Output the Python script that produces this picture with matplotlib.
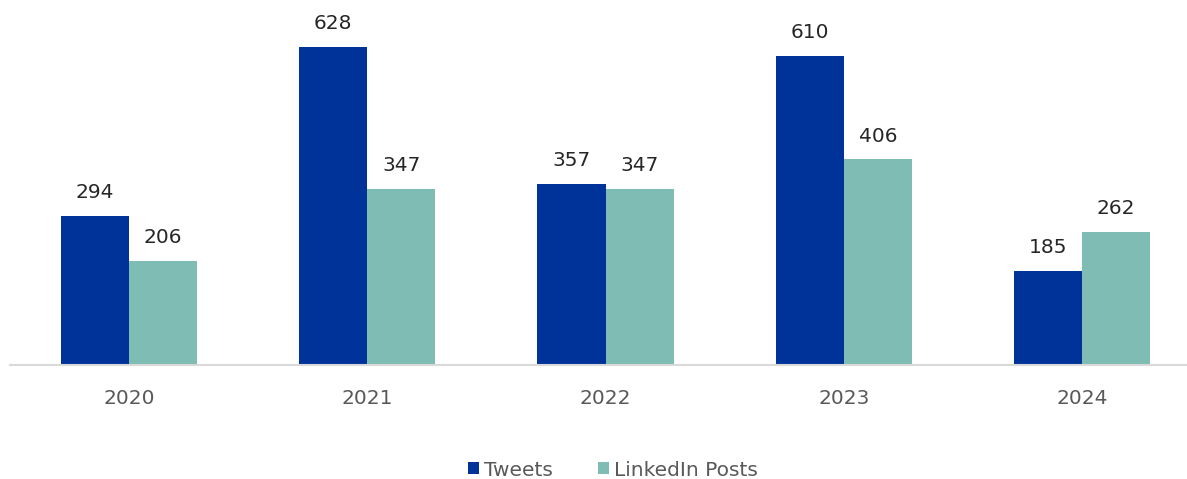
import numpy as np
import matplotlib.pyplot as plt

years = ["2020", "2021", "2022", "2023", "2024"]
tweets = [294, 628, 357, 610, 185]
linkedin = [206, 347, 347, 406, 262]

plt.rcParams['font.family'] = ['DejaVu Sans']

fig = plt.figure(figsize=(11.87, 4.79), dpi=100)
ax = fig.add_axes([10 / 1187, 114 / 479, 1191 / 1187, 365 / 479])

x = np.arange(len(years))
w = 0.286
b1 = ax.bar(x - w / 2, tweets, w, color='#003399', label='Tweets')
b2 = ax.bar(x + w / 2, linkedin, w, color='#7FBCB3', label='LinkedIn Posts')

for bars in (b1, b2):
    for rect in bars:
        h = rect.get_height()
        ax.annotate(f'{h:.0f}', (rect.get_x() + rect.get_width() / 2, h),
                    xytext=(0, 10), textcoords='offset points',
                    ha='center', va='bottom', fontsize=14.5, color='#262626')

ax.set_xlim(-0.5, 4.5)
ax.set_ylim(0, 720.8)
ax.set_xticks(x)
ax.set_xticklabels(years, fontsize=14.5, color='#595959')
ax.tick_params(axis='x', length=0, pad=17)
ax.set_yticks([])
for s in ['top', 'right', 'left']:
    ax.spines[s].set_visible(False)
ax.spines['bottom'].set_color('#d9d9d9')
ax.spines['bottom'].set_linewidth(1.5)

fig.legend(handles=[b1, b2], loc='center', bbox_to_anchor=(613 / 1187, 1 - 470 / 479),
           ncol=2, frameon=False, fontsize=14.5, handlelength=0.55, handleheight=0.55,
           handletextpad=0.25, columnspacing=2.2, labelcolor='#595959')

fig.savefig('out.png', dpi=100)
